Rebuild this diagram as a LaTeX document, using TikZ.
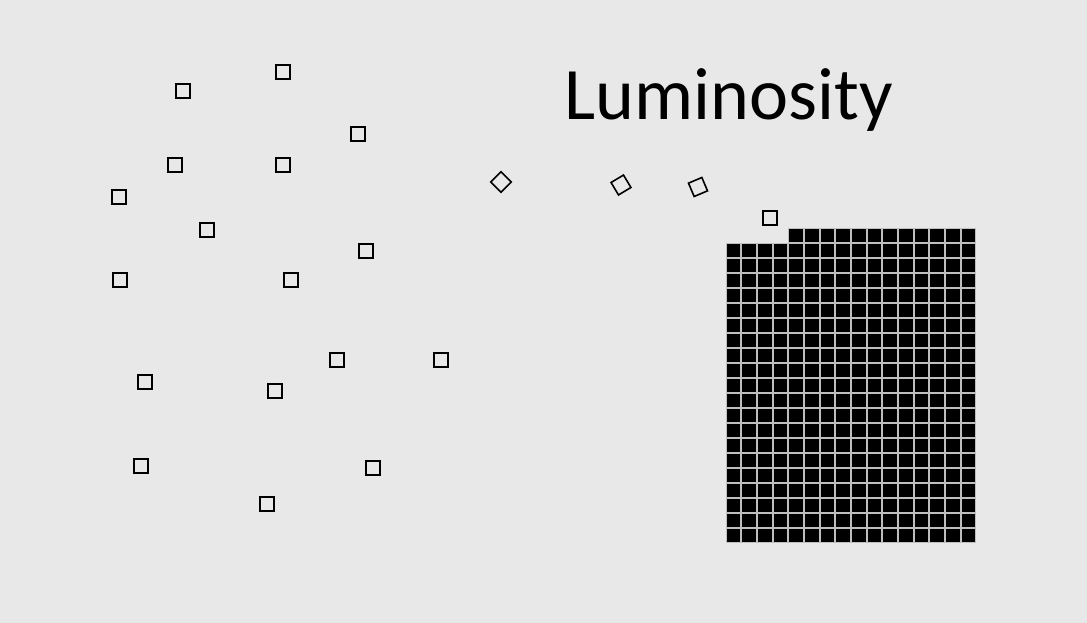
\documentclass[tikz,border=0pt]{standalone}
\usepackage{fontspec}
\setmainfont{Carlito}
\usetikzlibrary{positioning}
\definecolor{slidebg}{RGB}{232,232,232}
\definecolor{gapgray}{RGB}{190,190,190}

\begin{document}
\begin{tikzpicture}[x=1pt,y=-1pt]
			\tikzstyle{photon}=[draw,rectangle,line width=1.6pt,minimum size=14.5pt,inner sep=0pt]
			\tikzstyle{cell}=[fill=black,draw=gapgray,line width=0.6pt,minimum width=14.6pt,minimum height=14pt,inner sep=0pt]

			\fill[slidebg] (0,0) rectangle (1087,623);

			\node (title) at (729,100) {\fontsize{74}{80}\selectfont Luminosity};

			% scattered photons
			\foreach \x/\y [count=\k] in {183/91,283/72,358/134,175/165,283/165,119/197,207/230,366/251,120/280,291/280,337/360,441/360,145/382,275/391,141/466,373/468,267/504,770/218}
				\node (p\k) [photon] at (\x,\y) {};

			% photons falling in
			\node (f1) [photon,rotate=45] at (501,182) {};
			\node (f2) [photon,rotate=31] at (621,185) {};
			\node (f3) [photon,rotate=23] at (698,187) {};

			% detector
			\foreach \i in {0,...,15}
				\foreach \j in {0,...,20}{
					\ifnum\j=0 \ifnum\i<4 \else
						\node (c-\i-\j) [cell] at (733.3+15.67*\i,234.8+15*\j) {};
					\fi\else
						\node (c-\i-\j) [cell] at (733.3+15.67*\i,234.8+15*\j) {};
					\fi
				}
\end{tikzpicture}
\end{document}
